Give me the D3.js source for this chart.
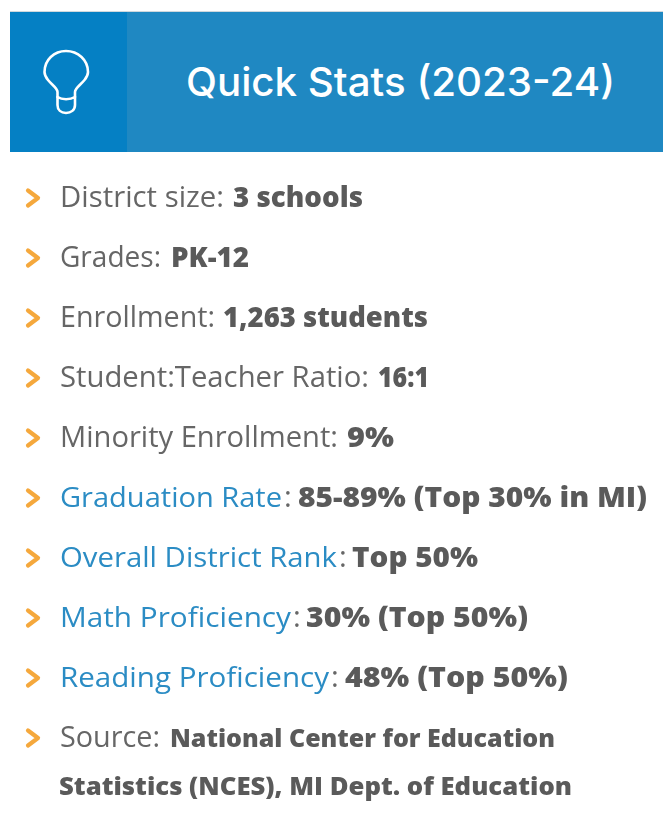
<!DOCTYPE html>
<html><head><meta charset="utf-8">
<script src="https://cdn.jsdelivr.net/npm/d3@7"></script>
<style>html,body{margin:0;padding:0;background:#fff;overflow:hidden}svg{display:block;filter:blur(0.4px)}</style>
</head><body><div id="c"></div>
<script>
const title = "Quick Stats (2023-24)";
const labels = ["District size:","Grades:","Enrollment:","Student:Teacher Ratio:","Minority Enrollment:","Graduation Rate","Overall District Rank","Math Proficiency","Reading Proficiency","Source:"];
const values = ["3 schools","PK-12","1,263 students","16:1","9%","85-89% (Top 30% in MI)","Top 50%","30% (Top 50%)","48% (Top 50%)","National Center for Education"];
const linked = [false,false,false,false,false,true,true,true,true,false];
const continuation = "Statistics (NCES), MI Dept. of Education";

// layout: measured extents of each run of text
const labelEnd = [224,161,215,369,338,282,337,291,329,160];
const valueSpan = [[233,363],[171,249],[223,428],[378,429],[347,394],[298,647],[352,478],[306,528],[345,568],[170,555]];

const W=663,H=828;
const svg=d3.select("#c").append("svg").attr("width",W).attr("height",H);
svg.append("rect").attr("x",10).attr("y",12).attr("width",653).attr("height",140).attr("fill","#1f88c2");
svg.append("rect").attr("x",10).attr("y",12).attr("width",117).attr("height",140).attr("fill","#0580c4");
svg.append("rect").attr("x",10).attr("y",11).attr("width",653).attr("height",1).attr("fill","#cfd8dd");
const bulb=svg.append("g").attr("fill","none").attr("stroke","#fff").attr("stroke-width",2.6).attr("stroke-linecap","round").attr("stroke-linejoin","round");
bulb.append("path").attr("d","M57.5 97 L57.5 92 C57.5 88 52 85 48 80 C45.5 77 44.5 74 44.5 72 C44.5 60 54 51 66 51 C78 51 88 60 88 72 C88 74 87 77 84.5 80 C80.5 85 75 88 75 92 L75 97");
bulb.append("path").attr("d","M57.5 97 C62 100 70 100 75 97 L75 105 C75 110 71 113 66 113 C61 113 57.5 110 57.5 105 Z");
svg.append("text").attr("x",186).attr("y",96).attr("fill","#fff").attr("font-family","Inter, Lato, sans-serif").attr("font-size",40).attr("font-weight",500).attr("textLength",429).attr("lengthAdjust","spacingAndGlyphs").text(title);

const y=d3.scalePoint().domain(d3.range(labels.length)).range([196,736]);
const rows=svg.selectAll("g.row").data(labels).join("g").attr("class","row").attr("transform",(d,i)=>`translate(0,${y(i)})`);
rows.append("path").attr("d","M28 -5.5 L38 2 L28 9.5").attr("fill","none").attr("stroke","#f5a83c").attr("stroke-width",4.2).attr("stroke-linecap","round").attr("stroke-linejoin","round");
const font="'Open Sans', sans-serif";
rows.append("text").attr("x",60).attr("y",10.5).attr("font-family",font).attr("font-size",(d,i)=>linked[i]?28:29.5).attr("fill",(d,i)=>linked[i]?"#2b8cc4":"#666")
  .attr("textLength",(d,i)=>labelEnd[i]-60).attr("lengthAdjust","spacingAndGlyphs").text(d=>d);
rows.filter((d,i)=>linked[i]).append("text").attr("x",d=>labelEnd[labels.indexOf(d)]+2).attr("y",10.5).attr("font-family",font).attr("font-size",29.5).attr("fill","#666").text(":");
rows.append("text").attr("x",(d,i)=>valueSpan[i][0]).attr("y",10.5).attr("font-family",font).attr("font-size",(d,i)=>i===9?25:28).attr("font-weight",800).attr("fill","#5a5a5a")
  .attr("textLength",(d,i)=>valueSpan[i][1]-valueSpan[i][0]).attr("lengthAdjust","spacingAndGlyphs").text((d,i)=>values[i]);
svg.append("text").attr("x",59).attr("y",795).attr("font-family",font).attr("font-size",25).attr("font-weight",800).attr("fill","#5a5a5a").attr("textLength",513).attr("lengthAdjust","spacingAndGlyphs").text(continuation);
</script></body></html>
